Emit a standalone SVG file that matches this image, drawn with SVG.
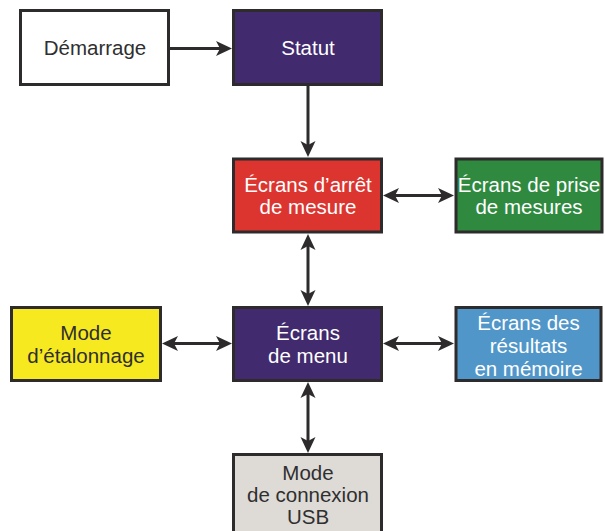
<svg xmlns="http://www.w3.org/2000/svg" width="605" height="531" viewBox="0 0 605 531">
  <style>
    .box { stroke: #2d2b2b; stroke-width: 3; }
    .lbl { font-family: "Liberation Sans", Arial, sans-serif; font-size: 20.5px; text-anchor: middle; }
    .dark { fill: #2f2f2f; }
    .light { fill: #ffffff; }
    .conn { stroke: #2d2b2b; stroke-width: 3; fill: none; }
  </style>
  <defs>
    <marker id="ah" viewBox="-5 -9 18 18" refX="0" refY="0" markerWidth="18" markerHeight="18" markerUnits="userSpaceOnUse" orient="auto-start-reverse">
      <path d="M12,0 L-4,-7.5 L0,0 L-4,7.5 Z" fill="#2d2b2b"/>
    </marker>
  </defs>
  <rect width="605" height="531" fill="#ffffff"/>

  <g id="connectors">
    <line class="conn" x1="170" y1="48.5" x2="220" y2="48.5" marker-end="url(#ah)"/>
    <line class="conn" x1="308" y1="86" x2="308" y2="145" marker-end="url(#ah)"/>
    <line class="conn" x1="395" y1="195.5" x2="442" y2="195.5" marker-start="url(#ah)" marker-end="url(#ah)"/>
    <line class="conn" x1="308" y1="246" x2="308" y2="294" marker-start="url(#ah)" marker-end="url(#ah)"/>
    <line class="conn" x1="174" y1="343.5" x2="220" y2="343.5" marker-start="url(#ah)" marker-end="url(#ah)"/>
    <line class="conn" x1="395" y1="343.5" x2="442" y2="343.5" marker-start="url(#ah)" marker-end="url(#ah)"/>
    <line class="conn" x1="308" y1="394" x2="308" y2="441" marker-start="url(#ah)" marker-end="url(#ah)"/>
  </g>

  <g id="demarrage">
    <rect class="box" x="20.5" y="10.5" width="148" height="74" fill="#ffffff"/>
    <text class="lbl dark" x="95" y="55">Démarrage</text>
  </g>

  <g id="statut">
    <rect class="box" x="233.5" y="10.5" width="148" height="74" fill="#412a6e"/>
    <text class="lbl light" x="308" y="55">Statut</text>
  </g>

  <g id="ecrans-arret">
    <rect class="box" x="233.5" y="159" width="148" height="73" fill="#dc3530"/>
    <text class="lbl light" x="308" y="191.5">Écrans d’arrêt</text>
    <text class="lbl light" x="308" y="214">de mesure</text>
  </g>

  <g id="ecrans-prise">
    <rect class="box" x="456" y="159" width="146" height="73" fill="#2f8a40"/>
    <text class="lbl light" x="529" y="191.5">Écrans de prise</text>
    <text class="lbl light" x="529" y="214">de mesures</text>
  </g>

  <g id="mode-etalonnage">
    <rect class="box" x="11.5" y="307.5" width="149" height="73" fill="#f7e91f"/>
    <text class="lbl dark" x="86" y="340">Mode</text>
    <text class="lbl dark" x="86" y="363">d’étalonnage</text>
  </g>

  <g id="ecrans-menu">
    <rect class="box" x="233.5" y="307.5" width="148" height="73" fill="#412a6e"/>
    <text class="lbl light" x="308" y="340">Écrans</text>
    <text class="lbl light" x="308" y="363">de menu</text>
  </g>

  <g id="ecrans-resultats">
    <rect class="box" x="456" y="307.5" width="145" height="73" fill="#5196c9"/>
    <text class="lbl light" x="528.5" y="329.5">Écrans des</text>
    <text class="lbl light" x="528.5" y="352.5">résultats</text>
    <text class="lbl light" x="528.5" y="375.5">en mémoire</text>
  </g>

  <g id="mode-usb">
    <rect class="box" x="233.5" y="454.5" width="148" height="78" fill="#dedad6"/>
    <text class="lbl dark" x="308" y="479.5">Mode</text>
    <text class="lbl dark" x="308" y="501.5">de connexion</text>
    <text class="lbl dark" x="308" y="523.5">USB</text>
  </g>
</svg>
